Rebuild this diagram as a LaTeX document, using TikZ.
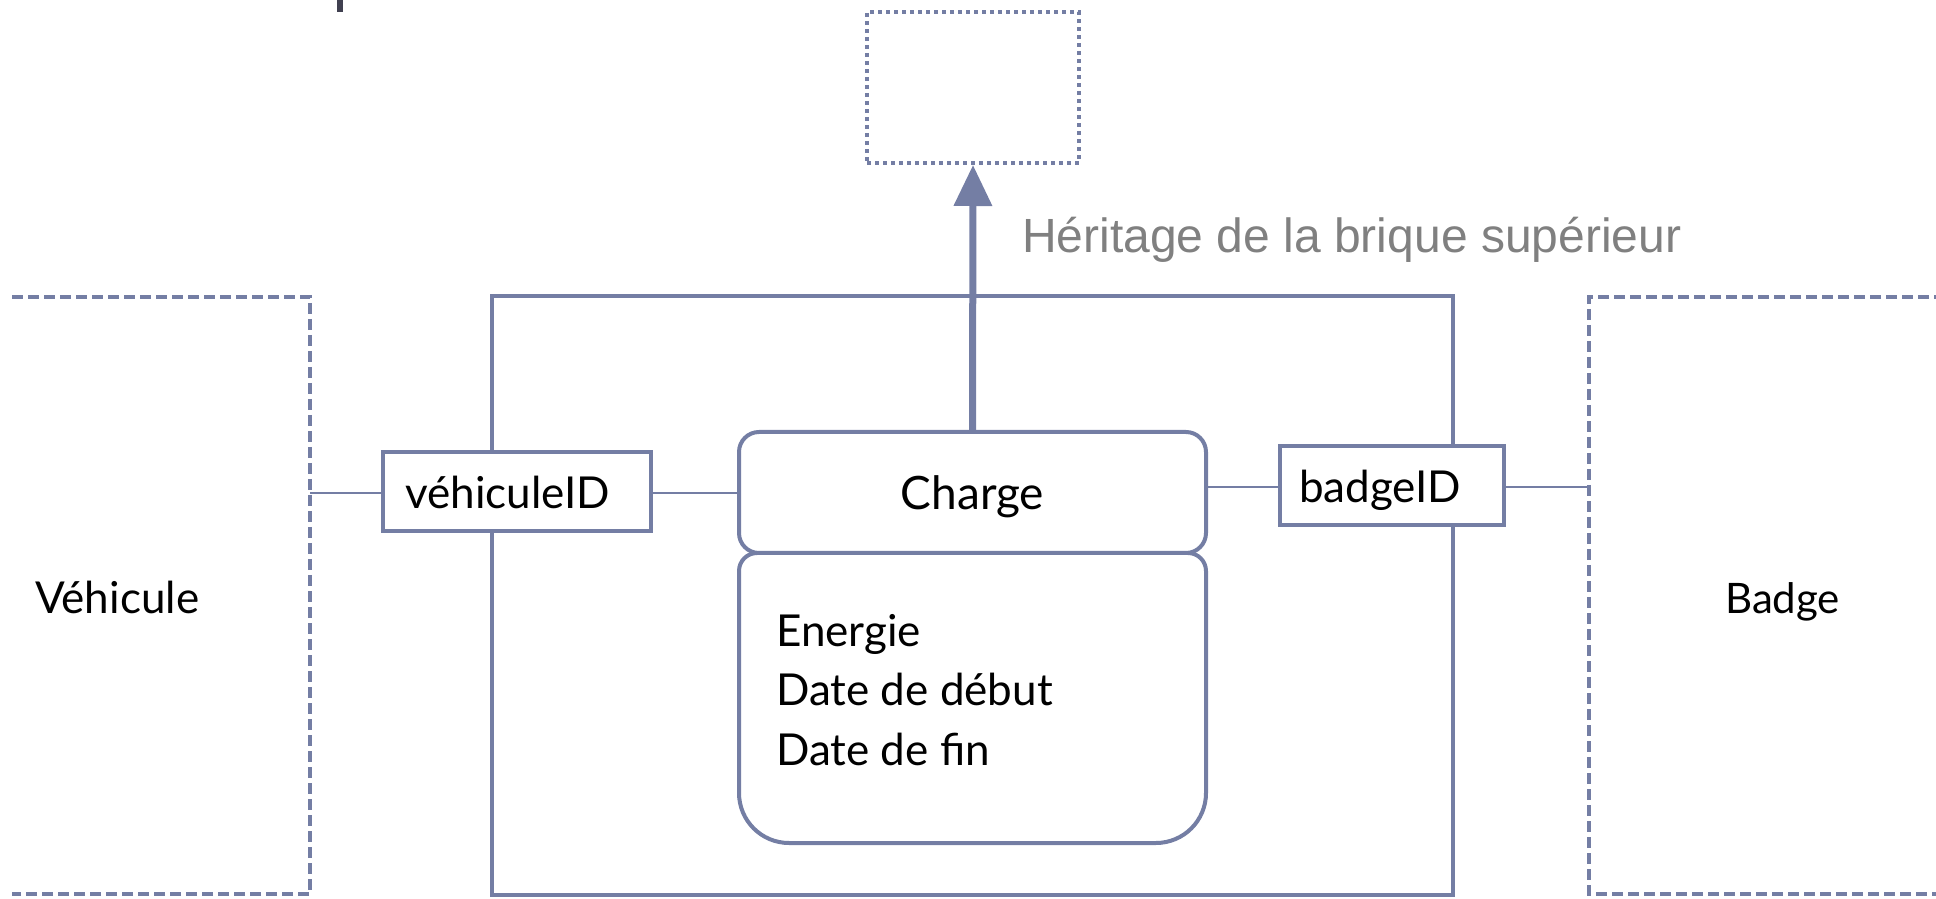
\documentclass[tikz,border=0pt]{standalone}
\usepackage{fontspec}
\setmainfont{Lato}
\newfontfamily\arialfont{Liberation Sans}
\usetikzlibrary{arrows.meta}
\definecolor{lineblue}{RGB}{116,126,164}
\definecolor{labelgray}{RGB}{128,128,128}
\definecolor{bardark}{RGB}{64,64,80}
\tikzset{
  bigbox/.style={draw=lineblue, line width=3.5pt},
  idbox/.style={draw=lineblue, line width=3.5pt, fill=white, rectangle, inner sep=0pt},
  dashbox/.style={draw=lineblue, line width=4pt, dash pattern=on 11pt off 5pt},
  dotbox/.style={draw=lineblue, line width=4pt, dash pattern=on 4pt off 4pt, rectangle, inner sep=0pt},
  roundbox/.style={draw=lineblue, line width=4pt, fill=white},
  conn/.style={draw=lineblue, line width=2pt},
  big/.style={font=\fontsize{44}{55}\selectfont, inner sep=0pt, anchor=base west},
  mid/.style={font=\fontsize{44}{60}\selectfont, inner sep=0pt, anchor=base west},
}
\begin{document}
\begin{tikzpicture}[x=1pt,y=1pt]
\useasboundingbox (0,0) rectangle (1936,898);
% top-left bar fragment
\fill[bardark] (337,886) rectangle (343,898);
% outer dashed boxes
\draw[dashbox] (12,601) -- (310,601) -- (310,4) -- (12,4);
\draw[dashbox] (1945,601) -- (1589,601) -- (1589,4) -- (1945,4);
\coordinate (vright) at (310,405);
\coordinate (bleft) at (1589,411);
% big box
\node[bigbox, rectangle, minimum width=961pt, minimum height=599pt, inner sep=0pt] (outer) at (972.5,302.5) {};
% upper (inherited) dotted box
\node[dotbox, minimum width=212pt, minimum height=151pt] (parent) at (973,810.5) {};
% attribute box
\draw[roundbox] (739,327) arc[start angle=180,end angle=90,radius=18pt] -- (1188,345)
  arc[start angle=90,end angle=0,radius=18pt] -- (1206,105)
  arc[start angle=0,end angle=-90,radius=50pt] -- (789,55)
  arc[start angle=270,end angle=180,radius=50pt] -- cycle;
% Charge box
\node[roundbox, rectangle, rounded corners=20pt, minimum width=467pt, minimum height=121pt, inner sep=0pt] (charge) at (972.5,405.5) {};
\node[big, font=\fontsize{46}{55}\selectfont, anchor=base] (chargetxt) at (972.5,388) {Charge};
% id boxes
\node[idbox, minimum width=268pt, minimum height=79pt] (vid) at (517,406.5) {};
\node[mid] (vidtxt) at (405,389) {véhiculeID};
\node[idbox, minimum width=224pt, minimum height=79pt] (bid) at (1392,412.5) {};
\node[mid] (bidtxt) at (1299,395) {badgeID};
% connectors
\draw[conn] (vright) -- (vright -| vid.west);
\draw[conn] (vid.east |- vright) -- (vright -| charge.west);
\draw[conn] (bleft -| charge.east) -- (bleft -| bid.west);
\draw[conn] (bleft -| bid.east) -- (bleft);
% inheritance arrow
\draw[draw=lineblue, line width=7pt, -{Triangle[width=37pt,length=41pt]}, fill=lineblue] (charge.north) -- (parent.south);
\node[font=\arialfont\fontsize{48}{50}\selectfont, text=labelgray, inner sep=0pt, anchor=base west] (herit) at (1022,645) {Héritage de la brique supérieur};
% entity names
\node[big] (vehicule) at (35,285) {Véhicule};
\node[big, font=\fontsize{42}{55}\selectfont] (badge) at (1725,284) {Badge};
% attributes
\node[mid] (a1) at (776,252) {Energie};
\node[mid] (a2) at (776,193) {Date de début};
\node[mid] (a3) at (776,133) {Date de fin};
\end{tikzpicture}
\end{document}
